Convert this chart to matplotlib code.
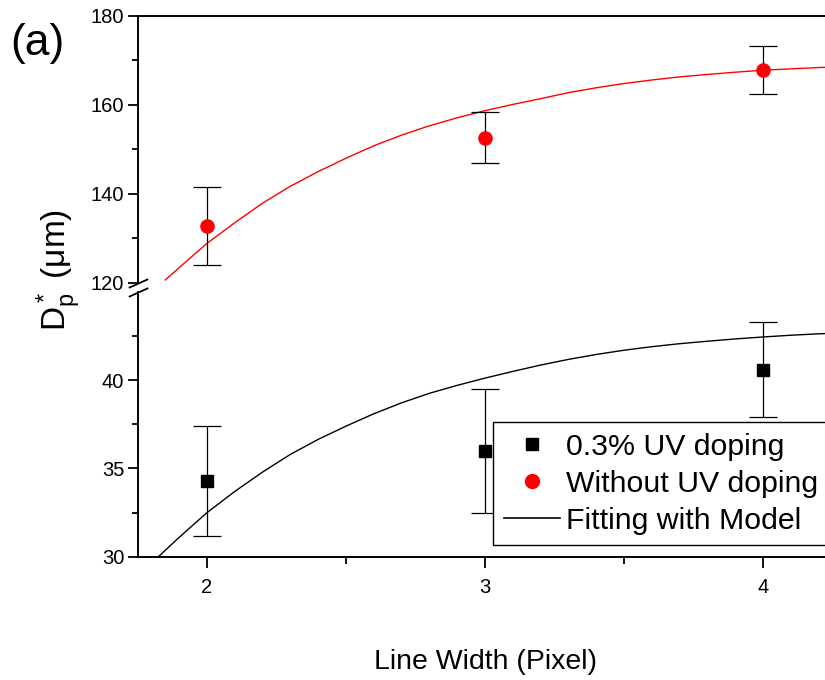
import matplotlib
matplotlib.use("Agg")
import matplotlib.pyplot as plt
from matplotlib.lines import Line2D

plt.rcParams['font.family'] = ['Liberation Sans', 'DejaVu Sans']
plt.rcParams['mathtext.default'] = 'regular'

# data
line_width = [2, 3, 4]

# without UV doping (red circles)
dp_plain = [132.7, 152.6, 167.8]
dp_plain_err = [8.8, 5.7, 5.4]

# 0.3% UV doping (black squares)
dp_uv = [34.3, 36.0, 40.6]
dp_uv_err = [3.1, 3.5, 2.7]

# fitted model curves
fit_x = [1.85, 1.9, 2.0, 2.1, 2.2, 2.3, 2.4, 2.5, 2.6, 2.7, 2.8, 2.9, 3.0,
         3.1, 3.2, 3.3, 3.4, 3.5, 3.6, 3.7, 3.8, 3.9, 4.0, 4.1, 4.2, 4.25]
fit_plain_y = [120.6, 123.4, 128.85, 133.5, 137.9, 141.7, 145.0, 148.0, 150.8, 153.2, 155.3, 157.1, 158.7,
               160.1, 161.4, 162.75, 163.85, 164.8, 165.6, 166.3, 166.85, 167.35, 167.8, 168.1, 168.4, 168.5]

fit_uv_x = [1.825, 1.9, 2.0, 2.1, 2.2, 2.3, 2.4, 2.5, 2.6, 2.7, 2.8, 2.9, 3.0,
            3.1, 3.2, 3.3, 3.4, 3.5, 3.6, 3.7, 3.8, 3.9, 4.0, 4.1, 4.2, 4.25]
fit_uv_y = [30.0, 31.1, 32.5, 33.7, 34.8, 35.8, 36.65, 37.4, 38.1, 38.72, 39.26, 39.71, 40.12,
            40.5, 40.86, 41.18, 41.46, 41.7, 41.9, 42.07, 42.21, 42.34, 42.45, 42.55, 42.63, 42.66]

fig = plt.figure(figsize=(8.25, 6.8), dpi=100)
ax_top = fig.add_axes([0.1667, 0.5843, 0.8424, 0.3922])
ax_bot = fig.add_axes([0.1667, 0.1813, 0.8424, 0.3893], sharex=ax_top)

ax_top.plot(fit_x, fit_plain_y, color='red', lw=1.0, zorder=2)
ax_top.errorbar(line_width, dp_plain, yerr=dp_plain_err, fmt='none', ecolor='black',
                elinewidth=0.9, capsize=10, capthick=0.9, zorder=3)
ax_top.plot(line_width, dp_plain, 'o', color='red', ms=9.5, zorder=4)

ax_bot.plot(fit_uv_x, fit_uv_y, color='black', lw=1.0, zorder=2)
ax_bot.errorbar(line_width, dp_uv, yerr=dp_uv_err, fmt='none', ecolor='black',
                elinewidth=0.9, capsize=10, capthick=0.9, zorder=3)
ax_bot.plot(line_width, dp_uv, 's', color='black', ms=8, zorder=4)

ax_top.set_xlim(1.75, 4.25)
ax_top.set_ylim(120, 180)
ax_bot.set_ylim(30, 45)

ax_top.set_yticks([120, 140, 160, 180])
ax_top.set_yticks([130, 150, 170], minor=True)
ax_bot.set_yticks([30, 35, 40])
ax_bot.set_yticks([32.5, 37.5, 42.5], minor=True)
ax_bot.set_xticks([2, 3, 4])
ax_bot.set_xticks([2.5, 3.5], minor=True)

for ax in (ax_top, ax_bot):
    for s in ax.spines.values():
        s.set_linewidth(1.4)
    ax.spines['right'].set_visible(False)
    ax.tick_params(axis='y', which='major', direction='out', length=7, width=1.3,
                   labelsize=14.5, pad=2.5)
    ax.tick_params(axis='y', which='minor', direction='out', length=4, width=1.3)

ax_top.spines['bottom'].set_visible(False)
ax_top.tick_params(axis='x', which='both', bottom=False, labelbottom=False)
ax_bot.spines['top'].set_visible(False)
ax_bot.tick_params(axis='x', which='major', direction='out', length=8, width=1.3,
                   labelsize=14.5, pad=7)
ax_bot.tick_params(axis='x', which='minor', direction='out', length=5, width=1.3)

# break marks on the y axis
brk = dict(marker=[(-1, -0.45), (1, 0.45)], markersize=14, linestyle='none',
           color='k', mec='k', mew=1.3, clip_on=False)
ax_top.plot([0], [0], transform=ax_top.transAxes, **brk)
ax_bot.plot([0], [1], transform=ax_bot.transAxes, **brk)

ax_bot.set_xlabel('Line Width (Pixel)', fontsize=20.5, labelpad=38)
fig.text(0.071, 0.603, r'D$_p^*$ (μm)', rotation=90, ha='center', va='center', fontsize=24)
fig.text(0.013, 1 - 55 / 680, '(a)', fontsize=32, va='baseline')

handles = [
    Line2D([], [], marker='s', color='black', ls='none', ms=9),
    Line2D([], [], marker='o', color='red', ls='none', ms=10),
    Line2D([], [], color='black', lw=1.2),
]
labels = ['0.3% UV doping', 'Without UV doping', 'Fitting with Model']
leg = ax_bot.legend(handles, labels, loc='upper left', bbox_to_anchor=(0.5115, 0.509),
                    borderaxespad=0, fontsize=21.8, frameon=True, fancybox=False,
                    edgecolor='black', framealpha=1, handlelength=1.85, handletextpad=0.2,
                    labelspacing=0.3, borderpad=0.35)
leg.get_frame().set_linewidth(1.0)

fig.savefig('out.png', dpi=100)
